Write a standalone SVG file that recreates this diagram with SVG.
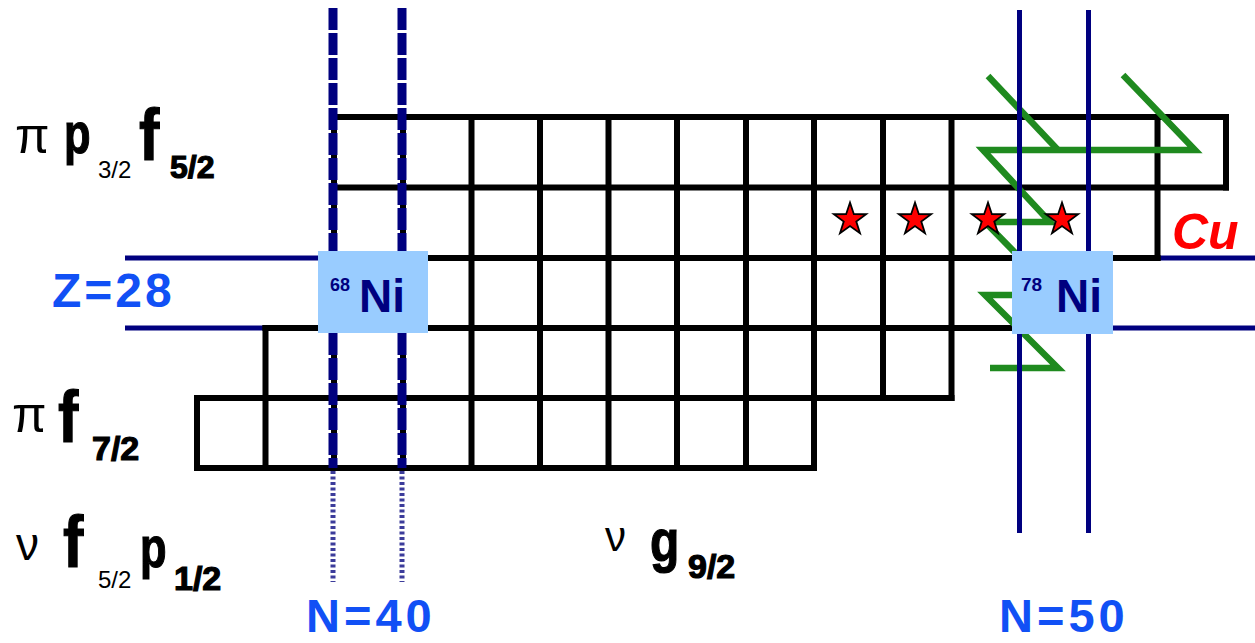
<svg xmlns="http://www.w3.org/2000/svg" width="1255" height="643" viewBox="0 0 1255 643">
<defs>
<style>
.grid{stroke:#000;stroke-width:6;stroke-linecap:square;fill:none}
.navy{stroke:#00007f;stroke-width:5;fill:none}
.n40{stroke:#00007f;stroke-width:9;stroke-dasharray:22 3;fill:none}
.n40dot{stroke:#1a1a8a;stroke-width:5;stroke-dasharray:3 2.5;fill:none;opacity:0.85}
.green{stroke:#1f8a1f;stroke-width:6.5;fill:none;stroke-linejoin:miter}
.box{fill:#99ccff}
.lab{font-family:"Liberation Sans",Arial,sans-serif;fill:#000}
.b{font-weight:bold;stroke:#000;stroke-width:1.2}
.blue{font-family:"Liberation Sans",Arial,sans-serif;font-weight:bold;fill:#1150f5}
.ni{font-family:"Liberation Sans",Arial,sans-serif;font-weight:bold;fill:#00007f}
.star{fill:#ff0000;stroke:#000;stroke-width:1.8;stroke-linejoin:miter}
</style>
<path id="star" d="M0,-17 L3.87,-5.33 L16.17,-5.25 L6.27,2.04 L9.99,13.75 L0,6.59 L-9.99,13.75 L-6.27,2.04 L-16.17,-5.25 L-3.87,-5.33 Z"/>
</defs>

<g id="shell-lines-z28">
<line class="navy" x1="125" y1="258" x2="318" y2="258"/>
<line class="navy" x1="125" y1="328" x2="270" y2="328"/>
<line class="navy" x1="1113" y1="258" x2="1255" y2="258"/>
<line class="navy" x1="1113" y1="328" x2="1255" y2="328"/>
</g>

<g id="grid" class="grid">
<line x1="334" y1="117" x2="1226" y2="117"/>
<line x1="334" y1="187.5" x2="1226" y2="187.5"/>
<line x1="334" y1="258" x2="1157.5" y2="258"/>
<line x1="265.5" y1="328" x2="1089" y2="328"/>
<line x1="197" y1="398" x2="951.5" y2="398"/>
<line x1="197" y1="468" x2="814" y2="468"/>
<line x1="197" y1="398" x2="197" y2="468"/>
<line x1="265.5" y1="328" x2="265.5" y2="468"/>
<line x1="334" y1="117" x2="334" y2="468"/>
<line x1="403" y1="117" x2="403" y2="468"/>
<line x1="471.5" y1="117" x2="471.5" y2="468"/>
<line x1="540" y1="117" x2="540" y2="468"/>
<line x1="608.5" y1="117" x2="608.5" y2="468"/>
<line x1="677" y1="117" x2="677" y2="468"/>
<line x1="746" y1="117" x2="746" y2="468"/>
<line x1="814" y1="117" x2="814" y2="468"/>
<line x1="883" y1="117" x2="883" y2="398"/>
<line x1="951.5" y1="117" x2="951.5" y2="398"/>
<line x1="1157.5" y1="117" x2="1157.5" y2="258"/>
<line x1="1226" y1="117" x2="1226" y2="187.5"/>
</g>

<g id="connectors">
<polyline class="green" points="988,76 1058,150"/>
<polyline class="green" points="1123,75 1195,150 983,150 1050,222 985,222 1032,270"/>
<polyline class="green" points="1015,295 985,295 1058,368 990,368"/>
</g>

<g id="shell-lines-n">
<line class="n40" x1="333" y1="8" x2="333" y2="468"/>
<line class="n40" x1="402" y1="8" x2="402" y2="468"/>
<line class="n40dot" x1="333" y1="471" x2="333" y2="582"/>
<line class="n40dot" x1="402" y1="471" x2="402" y2="582"/>
<line class="navy" x1="1019.5" y1="10" x2="1019.5" y2="533"/>
<line class="navy" x1="1088.5" y1="10" x2="1088.5" y2="533"/>
</g>

<g id="ni68">
<rect class="box" x="318" y="251" width="110" height="82"/>
<text class="ni" x="330" y="291" font-size="18">68</text>
<text class="ni" x="359" y="312" font-size="46">Ni</text>
</g>

<g id="ni78">
<rect class="box" x="1012" y="251" width="101" height="83"/>
<text class="ni" x="1021" y="291" font-size="19">78</text>
<text class="ni" x="1056" y="312" font-size="46">Ni</text>
</g>

<g id="stars">
<use href="#star" class="star" x="850" y="219.5"/>
<use href="#star" class="star" x="915" y="219.5"/>
<use href="#star" class="star" x="988" y="219.5"/>
<use href="#star" class="star" x="1062" y="219.5"/>
</g>

<g id="label-pi-p32-f52" class="lab">
<text x="15" y="153" font-size="50">π</text>
<text class="b" transform="translate(64,153) scale(0.75,1)" font-size="58">p</text>
<text x="98" y="178" font-size="24">3/2</text>
<text class="b" transform="translate(139,160) scale(0.85,1)" font-size="72">f</text>
<text class="b" x="170" y="178" font-size="32">5/2</text>
</g>

<g id="label-pi-f72" class="lab">
<text x="12" y="432" font-size="50">π</text>
<text class="b" transform="translate(58,442) scale(0.85,1)" font-size="72">f</text>
<text class="b" x="92" y="460" font-size="34">7/2</text>
</g>

<g id="label-nu-f52-p12" class="lab">
<text x="16" y="560" font-size="46">ν</text>
<text class="b" transform="translate(63,567) scale(0.85,1)" font-size="72">f</text>
<text x="98" y="588" font-size="24">5/2</text>
<text class="b" transform="translate(140,567) scale(0.75,1)" font-size="58">p</text>
<text class="b" x="174" y="590" font-size="34">1/2</text>
</g>

<g id="label-nu-g92" class="lab">
<text x="605" y="551" font-size="42">ν</text>
<text class="b" transform="translate(650,561) scale(0.8,1)" font-size="60">g</text>
<text class="b" x="688" y="578" font-size="34">9/2</text>
</g>

<g id="label-z28">
<text class="blue" x="52" y="307" font-size="48" letter-spacing="3">Z=28</text>
</g>
<g id="label-n40">
<text class="blue" x="306" y="632" font-size="47" letter-spacing="4">N=40</text>
</g>
<g id="label-n50">
<text class="blue" x="999" y="632" font-size="47" letter-spacing="4">N=50</text>
</g>
<g id="label-cu">
<text x="1172" y="249" font-family="Liberation Sans,Arial,sans-serif" font-weight="bold" font-style="italic" font-size="50" fill="#ff0000">Cu</text>
</g>
</svg>
